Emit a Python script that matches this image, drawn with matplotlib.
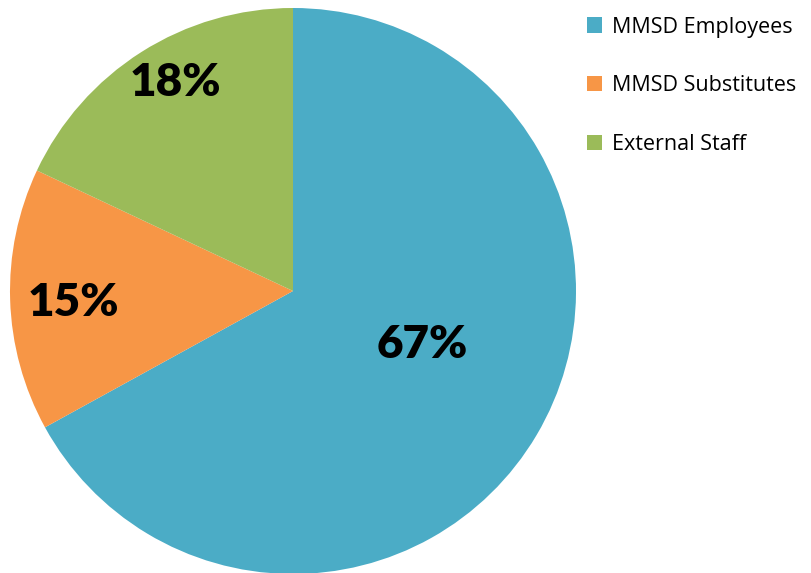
import matplotlib.pyplot as plt
from matplotlib.patches import Patch

labels = ['MMSD Employees', 'MMSD Substitutes', 'External Staff']
values = [67, 15, 18]
colors = ['#4BACC6', '#F79646', '#9BBB59']
# label offsets (fraction of radius) to match the reference placement
label_pos = [(0.456, -0.19), (-0.777, -0.042), (-0.417, 0.735)]

fig = plt.figure(figsize=(8.12, 5.73), dpi=100)
ax = fig.add_axes([10 / 812, -1 / 573, 566 / 812, 566 / 573])

wedges, texts, autotexts = ax.pie(values, colors=colors, startangle=90, counterclock=False,
                                  autopct='%d%%', radius=1.0,
                                  wedgeprops=dict(linewidth=0),
                                  textprops=dict(fontsize=33, fontweight='heavy', family='Lato'))
for t, (x, y) in zip(autotexts, label_pos):
    t.set_position((x, y))
ax.set_xlim(-1, 1)
ax.set_ylim(-1, 1)
ax.set_aspect('equal')
ax.axis('off')

handles = [Patch(facecolor=c, label=l) for c, l in zip(colors, labels)]
fig.legend(handles=handles, loc='upper left', bbox_to_anchor=(568 / 812, 1.005),
           frameon=False, handlelength=0.7, handleheight=0.7, handletextpad=0.45,
           labelspacing=1.75, prop=dict(family='Open Sans', size=15.5))

fig.savefig('out.png', dpi=100)
